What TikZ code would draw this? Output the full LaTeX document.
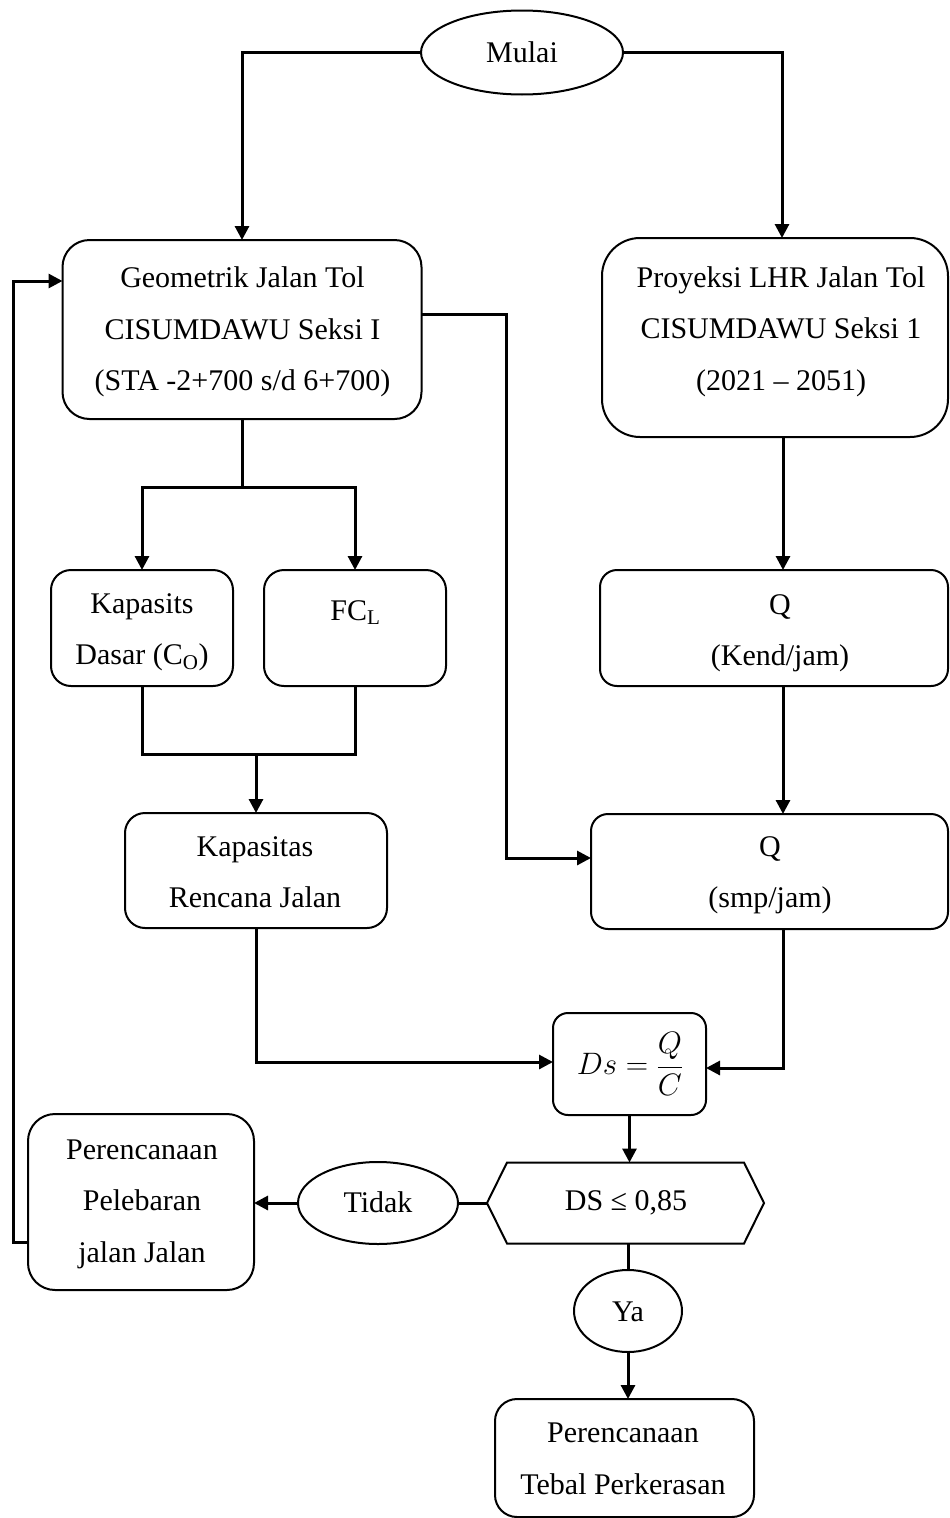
\documentclass[tikz,border=0pt]{standalone}
\usepackage{fix-cm}
\usepackage{fontspec}
\setmainfont{Liberation Serif}
\usetikzlibrary{arrows.meta,positioning,calc,shapes.geometric}

\begin{document}
\begin{tikzpicture}[
  x=1pt, y=-1pt,
  every node/.style={inner sep=0pt, outer sep=0pt},
  box/.style={draw, line width=2pt, rounded corners=#1},
  box/.default=20pt,
  oval/.style={draw, ellipse, line width=2pt},
  lbl/.style={font=\fontsize{30}{51.5}\selectfont, align=center,
    execute at begin node=\strut, execute at end node=\strut},
  link/.style={line width=3pt},
  arr/.style={link, -{Triangle[length=14pt,width=14pt]}},
]
\path[use as bounding box] (0,0) rectangle (950,1518);

% start
\node[oval, minimum width=202pt, minimum height=84pt] (mulai) at (522,52.5) {};
\node[lbl] (t-mulai) at (522,52) {Mulai};

% road geometry
\node[box=27pt, minimum width=359pt, minimum height=179pt] (geo) at (242,329.5) {};
\node[lbl] (t-geo) at (242.5,336.5) {Geometrik Jalan Tol\\CISUMDAWU Seksi I\\(STA -2+700 s/d 6+700)};

% traffic projection
\node[box=38pt, minimum width=346pt, minimum height=199pt] (proy) at (775,337.5) {};
\node[lbl] (t-proy) at (781,336) {Proyeksi LHR Jalan Tol\\CISUMDAWU Seksi 1\\(2021 -- 2051)};

% capacity factors
\node[box=20pt, minimum width=182pt, minimum height=116pt] (kap) at (142,628) {};
\node[lbl] (t-kap) at (142,637) {Kapasits\\Dasar (C\textsubscript{O})};
\node[box=20pt, minimum width=182pt, minimum height=116pt] (fc) at (355,628) {};
\node[lbl] (t-fc) at (355.5,610) {FC\textsubscript{L}};

\node[box=20pt, minimum width=262pt, minimum height=115pt] (kaprj) at (256,870.5) {};
\node[lbl] (t-kaprj) at (255,880) {Kapasitas\\Rencana Jalan};

% flows
\node[box=17pt, minimum width=348pt, minimum height=116pt] (qk) at (774,628) {};
\node[lbl] (t-qk) at (780,638) {Q\\(Kend/jam)};
\node[box=17pt, minimum width=357pt, minimum height=115pt] (qs) at (769.5,871.5) {};
\node[lbl] (t-qs) at (770,880) {Q\\(smp/jam)};

% degree of saturation
\node[box=15pt, minimum width=153pt, minimum height=102pt] (ds) at (629.5,1064) {};
\node[font=\fontsize{31}{36}\selectfont] (t-ds) at (630,1064) {$\displaystyle Ds=\frac{Q}{C}$};

% decision
\node[minimum width=277pt, minimum height=81pt] (hex) at (625.5,1203) {};
\draw[line width=2pt, line join=miter]
  (hex.west) -- ([xshift=20pt]hex.north west) -- ([xshift=-20pt]hex.north east)
  -- (hex.east) -- ([xshift=-20pt]hex.south east) -- ([xshift=20pt]hex.south west) -- cycle;
\node[lbl] (t-hex) at (626,1200) {DS ≤ 0,85};

\node[oval, minimum width=160pt, minimum height=82pt] (tidak) at (378,1203) {};
\node[lbl] (t-tidak) at (378,1202) {Tidak};

\node[box=27pt, minimum width=226pt, minimum height=176pt] (pel) at (141,1202) {};
\node[lbl] (t-pel) at (142,1208.5) {Perencanaan\\Pelebaran\\jalan Jalan};

\node[oval, minimum width=108pt, minimum height=82pt] (ya) at (628,1311) {};
\node[lbl] (t-ya) at (628,1311) {Ya};

\node[box=22pt, minimum width=259pt, minimum height=118pt] (fin) at (624.5,1458) {};
\node[lbl] (t-fin) at (623,1466.5) {Perencanaan\\Tebal Perkerasan};

% connectors
\draw[arr] (mulai.west) -| (geo.north);
\draw[arr] (mulai.east) -| ([xshift=7pt]proy.north);

\coordinate (split) at (242,487);
\draw[link] (geo.south) -- (split);
\draw[arr] (split) -| (kap.north);
\draw[arr] (split) -| (fc.north);

\coordinate (merge) at (256,754);
\draw[link] (kap.south) -- (kap.south |- merge) -- (fc.south |- merge) -- (fc.south);
\draw[arr] (merge) -- (kaprj.north);

\draw[arr] ([xshift=8pt]proy.south) -- ([xshift=8pt]proy.south |- qk.north);
\draw[arr] ([xshift=9pt]qk.south) -- ([xshift=9pt]qk.south |- qs.north);

\draw[arr] ([yshift=15.5pt]geo.east) -- ++(85,0) |- ([yshift=13.5pt]qs.west);

\draw[arr] (kaprj.south) |- ([yshift=2pt]ds.west);
\draw[arr] ([xshift=13.5pt]qs.south) |- ([yshift=-4pt]ds.east);

\draw[arr] (ds.south) -- (ds.south |- hex.north);
\draw[link] (hex.west) -- (tidak.east);
\draw[arr] (tidak.west) -- (pel.east |- tidak.west);
\draw[arr] ([yshift=-40pt]pel.west) -- ++(-15,0) |- ([yshift=48.5pt]geo.west);

\draw[link] (ya.north |- hex.south) -- (ya.north);
\draw[arr] (ya.south) -- (ya.south |- fin.north);
\end{tikzpicture}
\end{document}
